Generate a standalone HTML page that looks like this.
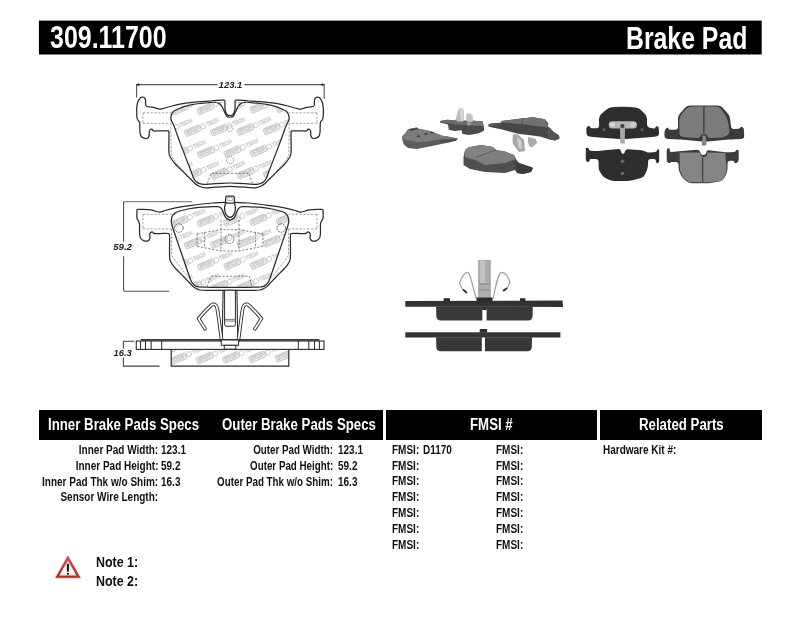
<!DOCTYPE html>
<html><head><meta charset="utf-8">
<style>
*{margin:0;padding:0;box-sizing:border-box}
html,body{width:800px;height:619px;background:#fff;overflow:hidden}
body{position:relative;font-family:"Liberation Sans",sans-serif;font-weight:bold;color:#111}
.abs{position:absolute}
.bar{position:absolute;background:#000}
.t{position:absolute;white-space:nowrap;transform-origin:0 0}
.w{color:#fff}
.r{transform-origin:100% 0}
.t{line-height:1;filter:grayscale(1)}
</style></head><body>
<svg class="abs" style="left:0;top:0" width="800" height="60"><rect x="38.9" y="20.6" width="722.8" height="33.9" fill="#000"/></svg>
<div class="bar" style="left:39px;top:410px;width:344px;height:30px"></div>
<div class="bar" style="left:386px;top:410px;width:211px;height:30px"></div>
<div class="bar" style="left:600px;top:410px;width:162px;height:30px"></div>
<!--SVG-->
<svg class="abs" style="left:0;top:0;filter:grayscale(1)" width="800" height="619" viewBox="0 0 800 619">
<defs><g id="wm" transform="rotate(-23)">
<rect x="0" y="-6" width="16.5" height="6.2" rx="0.8" fill="#ececec" stroke="#bfbfbf" stroke-width="0.8"/>
<text x="1.5" y="-1.3" font-size="5.6" font-weight="bold" fill="#f4f4f4" stroke="#bdbdbd" stroke-width="0.45" font-family="Liberation Sans" textLength="13.5" lengthAdjust="spacingAndGlyphs">STOP</text>
<circle cx="19.6" cy="-2.9" r="2.5" fill="none" stroke="#c0c0c0" stroke-width="0.8"/>
<text x="23.2" y="-1.3" font-size="5.6" font-weight="bold" fill="#f6f6f6" stroke="#c6c6c6" stroke-width="0.45" font-family="Liberation Sans" textLength="13" lengthAdjust="spacingAndGlyphs">TECH</text>
</g>
<clipPath id="cf1"><path d="M230.0,183.0C227.5,183.1 219.3,183.4 215.0,183.6C210.7,183.8 206.6,184.4 204.0,184.4C201.4,184.4 200.8,184.1 199.5,183.6C198.2,183.1 197.0,182.4 196.0,181.5C195.0,180.6 194.5,180.2 193.5,178.0C192.5,175.8 192.0,173.7 189.8,168.0C187.6,162.3 183.0,150.6 180.4,143.6C177.8,136.6 175.6,130.0 174.0,126.0C172.4,122.0 171.4,121.4 171.0,119.5C170.6,117.6 171.0,115.9 171.5,114.5C172.0,113.1 173.0,111.9 174.0,111.0C175.0,110.1 175.8,110.0 177.5,109.3C179.2,108.6 181.6,107.4 184.0,106.6C186.4,105.8 189.3,105.1 192.0,104.6C194.7,104.1 197.2,103.8 200.0,103.5C202.8,103.2 206.5,102.8 209.0,102.6C211.5,102.4 213.3,102.2 215.0,102.3C216.7,102.4 217.8,102.7 219.0,103.4C220.2,104.1 221.1,105.1 222.0,106.5C222.9,107.9 223.7,110.4 224.5,112.0C225.3,113.6 225.9,115.3 226.8,116.2C227.7,117.1 228.9,117.4 230.0,117.4C231.1,117.4 232.3,117.1 233.2,116.2C234.1,115.3 234.7,113.6 235.5,112.0C236.3,110.4 237.1,107.9 238.0,106.5C238.9,105.1 239.8,104.1 241.0,103.4C242.2,102.7 243.3,102.4 245.0,102.3C246.7,102.2 248.5,102.4 251.0,102.6C253.5,102.8 257.2,103.2 260.0,103.5C262.8,103.8 265.3,104.1 268.0,104.6C270.7,105.1 273.6,105.8 276.0,106.6C278.4,107.4 280.8,108.6 282.5,109.3C284.2,110.0 285.0,110.1 286.0,111.0C287.0,111.9 288.0,113.1 288.5,114.5C289.0,115.9 289.4,117.6 289.0,119.5C288.6,121.4 287.6,122.0 286.0,126.0C284.4,130.0 282.2,136.6 279.6,143.6C277.0,150.6 272.4,162.3 270.2,168.0C268.0,173.7 267.5,175.8 266.5,178.0C265.5,180.2 265.0,180.6 264.0,181.5C263.0,182.4 261.8,183.1 260.5,183.6C259.2,184.1 258.6,184.4 256.0,184.4C253.4,184.4 249.3,183.8 245.0,183.6C240.7,183.4 232.5,183.1 230.0,183.0Z"/></clipPath>
<clipPath id="cf2"><path d="M230.0,287.4C226.7,287.4 215.1,287.4 210.0,287.3C204.9,287.2 201.9,287.2 199.5,287.0C197.1,286.8 196.8,286.8 195.6,286.1C194.4,285.4 193.4,284.3 192.5,283.0C191.6,281.7 192.0,283.6 190.0,278.2C188.0,272.8 183.4,259.0 180.5,250.5C177.6,242.0 174.0,231.9 172.5,227.0C171.0,222.1 171.3,222.9 171.3,221.0C171.3,219.1 171.9,216.8 172.5,215.5C173.1,214.2 174.1,213.7 175.0,213.0C175.9,212.3 175.9,212.2 178.1,211.5C180.3,210.8 184.6,209.7 188.0,209.0C191.4,208.3 195.1,207.8 198.8,207.4C202.5,207.0 206.8,206.9 210.0,206.8C213.2,206.7 216.1,206.4 218.0,206.7C219.9,207.0 220.6,207.5 221.5,208.5C222.4,209.5 222.8,211.3 223.5,212.9C224.2,214.5 224.8,216.8 226.0,218.0C227.2,219.2 229.2,220.4 230.5,220.4C231.8,220.4 233.0,219.2 234.0,218.0C235.0,216.8 235.8,214.5 236.5,212.9C237.2,211.3 237.6,209.5 238.5,208.5C239.4,207.5 240.1,207.0 242.0,206.7C243.9,206.4 246.8,206.7 250.0,206.8C253.2,206.9 257.5,207.0 261.2,207.4C264.9,207.8 268.6,208.3 272.0,209.0C275.4,209.7 279.7,210.8 281.9,211.5C284.1,212.2 284.1,212.3 285.0,213.0C285.9,213.7 286.9,214.2 287.5,215.5C288.1,216.8 288.7,219.1 288.7,221.0C288.7,222.9 289.0,222.1 287.5,227.0C286.0,231.9 282.4,242.0 279.5,250.5C276.6,259.0 272.0,272.8 270.0,278.2C268.0,283.6 268.4,281.7 267.5,283.0C266.6,284.3 265.6,285.4 264.4,286.1C263.2,286.8 262.9,286.8 260.5,287.0C258.1,287.2 255.1,287.2 250.0,287.3C244.9,287.4 233.3,287.4 230.0,287.4Z"/></clipPath>
<clipPath id="cf3"><rect x="171.2" y="349.3" width="117.6" height="17"/></clipPath></defs>
<g clip-path="url(#cf1)">
<use href="#wm" x="147.0" y="159.3"/>
<use href="#wm" x="160.3" y="180.8"/>
<use href="#wm" x="146.7" y="115.7"/>
<use href="#wm" x="160.0" y="137.2"/>
<use href="#wm" x="173.3" y="158.7"/>
<use href="#wm" x="186.6" y="180.2"/>
<use href="#wm" x="159.7" y="93.6"/>
<use href="#wm" x="173.0" y="115.1"/>
<use href="#wm" x="186.3" y="136.6"/>
<use href="#wm" x="199.6" y="158.1"/>
<use href="#wm" x="212.9" y="179.6"/>
<use href="#wm" x="186.0" y="93.0"/>
<use href="#wm" x="199.3" y="114.5"/>
<use href="#wm" x="212.6" y="136.0"/>
<use href="#wm" x="225.9" y="157.5"/>
<use href="#wm" x="239.2" y="179.0"/>
<use href="#wm" x="252.5" y="200.5"/>
<use href="#wm" x="212.3" y="92.4"/>
<use href="#wm" x="225.6" y="113.9"/>
<use href="#wm" x="238.9" y="135.4"/>
<use href="#wm" x="252.2" y="156.9"/>
<use href="#wm" x="265.5" y="178.4"/>
<use href="#wm" x="278.8" y="199.9"/>
<use href="#wm" x="238.6" y="91.8"/>
<use href="#wm" x="251.9" y="113.3"/>
<use href="#wm" x="265.2" y="134.8"/>
<use href="#wm" x="278.5" y="156.3"/>
<use href="#wm" x="291.8" y="177.8"/>
<use href="#wm" x="264.9" y="91.2"/>
<use href="#wm" x="278.2" y="112.7"/>
<use href="#wm" x="291.5" y="134.2"/>
<use href="#wm" x="291.2" y="90.6"/>
</g>
<path d="M230.0,186.4C227.5,186.5 219.2,187.0 215.0,187.2C210.8,187.4 207.5,187.9 205.0,187.8C202.5,187.7 201.7,187.2 200.0,186.5C198.3,185.8 197.5,185.7 195.0,183.5C192.5,181.3 188.3,176.8 185.0,173.5C181.7,170.2 177.7,166.7 175.3,164.0C172.9,161.3 171.6,159.3 170.5,157.5C169.4,155.7 169.3,155.9 169.0,153.0C168.7,150.1 168.9,143.4 168.9,140.0C168.9,136.6 169.1,133.8 168.9,132.3C168.7,130.8 169.3,131.1 167.8,130.9C166.3,130.7 162.4,130.9 160.0,130.9C157.6,130.9 154.8,131.2 153.5,130.9C152.2,130.6 152.5,129.4 152.0,129.2C151.5,129.0 150.8,129.2 150.3,129.6C149.9,130.0 149.5,130.5 149.3,131.5C149.1,132.5 149.5,134.4 149.2,135.5C148.9,136.6 148.4,137.8 147.5,138.2C146.6,138.6 145.1,138.6 144.0,138.2C142.9,137.8 141.7,136.9 141.0,136.0C140.3,135.1 140.2,134.2 140.0,132.5C139.8,130.8 139.9,127.7 139.8,126.0C139.7,124.3 139.9,123.3 139.5,122.2C139.1,121.1 138.0,120.5 137.6,119.6C137.2,118.6 137.0,118.3 136.8,116.5C136.7,114.7 136.6,111.2 136.7,109.0C136.8,106.8 137.1,104.6 137.5,103.0C137.9,101.4 138.4,100.5 139.0,99.6C139.6,98.7 140.2,98.0 140.8,97.6C141.4,97.2 142.0,97.0 142.6,97.1C143.2,97.2 144.1,97.4 144.6,98.0C145.1,98.6 145.4,99.4 145.6,100.5C145.8,101.6 145.4,103.5 145.6,104.5C145.8,105.5 145.9,105.9 146.6,106.3C147.3,106.7 148.8,106.8 150.0,107.0C151.2,107.2 152.2,107.1 153.5,107.4C154.8,107.7 156.3,108.3 157.5,108.6C158.7,108.9 159.2,109.2 160.5,109.1C161.8,109.0 163.1,108.5 165.0,108.0C166.9,107.5 169.5,106.6 172.0,106.0C174.5,105.4 177.0,104.8 180.0,104.2C183.0,103.7 186.7,103.1 190.0,102.7C193.3,102.3 196.3,102.0 200.0,101.7C203.7,101.4 208.3,101.0 212.0,100.8C215.7,100.5 219.9,100.3 222.0,100.2C224.1,100.1 224.3,100.2 224.8,100.2" fill="none" stroke="#2b2b2b" stroke-width="1.25" />
<path d="M224.9,100.3C224.9,101.2 224.9,104.3 224.9,106.0C224.9,107.7 224.9,109.1 225.2,110.5C225.5,111.9 226.0,113.4 226.8,114.2C227.6,115.0 228.9,115.6 230.0,115.6C231.1,115.6 232.4,115.0 233.2,114.2C234.0,113.4 234.5,111.9 234.8,110.5C235.1,109.1 235.1,107.7 235.1,106.0C235.1,104.3 235.1,101.2 235.1,100.3" fill="none" stroke="#2b2b2b" stroke-width="1.25" />
<path d="M235.2,100.2C235.7,100.2 235.9,100.1 238.0,100.2C240.1,100.3 244.3,100.5 248.0,100.8C251.7,101.0 256.3,101.4 260.0,101.7C263.7,102.0 266.7,102.3 270.0,102.7C273.3,103.1 277.0,103.7 280.0,104.2C283.0,104.8 285.5,105.4 288.0,106.0C290.5,106.6 293.1,107.5 295.0,108.0C296.9,108.5 298.2,109.0 299.5,109.1C300.8,109.2 301.3,108.9 302.5,108.6C303.7,108.3 305.2,107.7 306.5,107.4C307.8,107.1 308.9,107.2 310.0,107.0C311.1,106.8 312.7,106.7 313.4,106.3C314.1,105.9 314.2,105.5 314.4,104.5C314.6,103.5 314.2,101.6 314.4,100.5C314.6,99.4 314.9,98.6 315.4,98.0C315.9,97.4 316.8,97.2 317.4,97.1C318.0,97.0 318.6,97.2 319.2,97.6C319.8,98.0 320.4,98.7 321.0,99.6C321.6,100.5 322.1,101.4 322.5,103.0C322.9,104.6 323.2,106.8 323.3,109.0C323.4,111.2 323.4,114.7 323.2,116.5C323.0,118.3 322.8,118.6 322.4,119.6C321.9,120.5 320.9,121.1 320.5,122.2C320.1,123.3 320.3,124.3 320.2,126.0C320.1,127.7 320.2,130.8 320.0,132.5C319.8,134.2 319.7,135.1 319.0,136.0C318.3,136.9 317.1,137.8 316.0,138.2C314.9,138.6 313.4,138.6 312.5,138.2C311.6,137.8 311.1,136.6 310.8,135.5C310.5,134.4 310.9,132.5 310.7,131.5C310.5,130.5 310.1,130.0 309.7,129.6C309.2,129.2 308.5,129.0 308.0,129.2C307.5,129.4 307.8,130.6 306.5,130.9C305.2,131.2 302.4,130.9 300.0,130.9C297.6,130.9 293.7,130.7 292.2,130.9C290.7,131.1 291.3,130.8 291.1,132.3C290.9,133.8 291.1,136.6 291.1,140.0C291.1,143.4 291.3,150.1 291.0,153.0C290.7,155.9 290.6,155.7 289.5,157.5C288.4,159.3 287.1,161.3 284.7,164.0C282.3,166.7 278.3,170.2 275.0,173.5C271.7,176.8 267.5,181.3 265.0,183.5C262.5,185.7 261.7,185.8 260.0,186.5C258.3,187.2 257.5,187.7 255.0,187.8C252.5,187.9 249.2,187.4 245.0,187.2C240.8,187.0 232.5,186.5 230.0,186.4" fill="none" stroke="#2b2b2b" stroke-width="1.25" />
<path d="M230.0,183.0C227.5,183.1 219.3,183.4 215.0,183.6C210.7,183.8 206.6,184.4 204.0,184.4C201.4,184.4 200.8,184.1 199.5,183.6C198.2,183.1 197.0,182.4 196.0,181.5C195.0,180.6 194.5,180.2 193.5,178.0C192.5,175.8 192.0,173.7 189.8,168.0C187.6,162.3 183.0,150.6 180.4,143.6C177.8,136.6 175.6,130.0 174.0,126.0C172.4,122.0 171.4,121.4 171.0,119.5C170.6,117.6 171.0,115.9 171.5,114.5C172.0,113.1 173.0,111.9 174.0,111.0C175.0,110.1 175.8,110.0 177.5,109.3C179.2,108.6 181.6,107.4 184.0,106.6C186.4,105.8 189.3,105.1 192.0,104.6C194.7,104.1 197.2,103.8 200.0,103.5C202.8,103.2 206.5,102.8 209.0,102.6C211.5,102.4 213.3,102.2 215.0,102.3C216.7,102.4 217.8,102.7 219.0,103.4C220.2,104.1 221.1,105.1 222.0,106.5C222.9,107.9 223.7,110.4 224.5,112.0C225.3,113.6 225.9,115.3 226.8,116.2C227.7,117.1 229.5,117.2 230.0,117.4" fill="none" stroke="#2b2b2b" stroke-width="1.25" />
<path d="M230.0,117.4C230.5,117.2 232.3,117.1 233.2,116.2C234.1,115.3 234.7,113.6 235.5,112.0C236.3,110.4 237.1,107.9 238.0,106.5C238.9,105.1 239.8,104.1 241.0,103.4C242.2,102.7 243.3,102.4 245.0,102.3C246.7,102.2 248.5,102.4 251.0,102.6C253.5,102.8 257.2,103.2 260.0,103.5C262.8,103.8 265.3,104.1 268.0,104.6C270.7,105.1 273.6,105.8 276.0,106.6C278.4,107.4 280.8,108.6 282.5,109.3C284.2,110.0 285.0,110.1 286.0,111.0C287.0,111.9 288.0,113.1 288.5,114.5C289.0,115.9 289.4,117.6 289.0,119.5C288.6,121.4 287.6,122.0 286.0,126.0C284.4,130.0 282.2,136.6 279.6,143.6C277.0,150.6 272.4,162.3 270.2,168.0C268.0,173.7 267.5,175.8 266.5,178.0C265.5,180.2 265.0,180.6 264.0,181.5C263.0,182.4 261.8,183.1 260.5,183.6C259.2,184.1 258.6,184.4 256.0,184.4C253.4,184.4 249.3,183.8 245.0,183.6C240.7,183.4 232.5,183.1 230.0,183.0" fill="none" stroke="#2b2b2b" stroke-width="1.25" />
<path d="M143.0,112.8 L171.0,112.8" fill="none" stroke="#8c8c8c" stroke-width="0.8" stroke-dasharray="2.3,1.5"/>
<path d="M317.0,112.8 L289.0,112.8" fill="none" stroke="#8c8c8c" stroke-width="0.8" stroke-dasharray="2.3,1.5"/>
<path d="M143.0,123.3 L171.0,123.3" fill="none" stroke="#8c8c8c" stroke-width="0.8" stroke-dasharray="2.3,1.5"/>
<path d="M317.0,123.3 L289.0,123.3" fill="none" stroke="#8c8c8c" stroke-width="0.8" stroke-dasharray="2.3,1.5"/>
<path d="M143.0,112.8 L143.0,123.3" fill="none" stroke="#8c8c8c" stroke-width="0.8" stroke-dasharray="2.3,1.5"/>
<path d="M317.0,112.8 L317.0,123.3" fill="none" stroke="#8c8c8c" stroke-width="0.8" stroke-dasharray="2.3,1.5"/>
<path d="M170.9,123.3 L170.9,140.0 L171.2,155.3 L176.0,163.0 L189.0,177.0" fill="none" stroke="#8c8c8c" stroke-width="0.8" stroke-dasharray="2.3,1.5"/>
<path d="M289.1,123.3 L289.1,140.0 L288.8,155.3 L284.0,163.0 L271.0,177.0" fill="none" stroke="#8c8c8c" stroke-width="0.8" stroke-dasharray="2.3,1.5"/>
<path d="M207.4,183.4 L211.2,173.3 L248.8,173.3 L252.6,183.4" fill="none" stroke="#666" stroke-width="0.8" stroke-dasharray="2.3,1.5"/>
<path d="M212.0,102.4 L224.5,102.4" fill="none" stroke="#8c8c8c" stroke-width="0.8" stroke-dasharray="2.3,1.5"/>
<path d="M248.0,102.4 L235.5,102.4" fill="none" stroke="#8c8c8c" stroke-width="0.8" stroke-dasharray="2.3,1.5"/>
<circle cx="230" cy="160" r="3.6" fill="none" stroke="#777" stroke-width="0.8" stroke-dasharray="1.5,1"/>
<circle cx="230" cy="128.5" r="3" fill="none" stroke="#888" stroke-width="0.8" stroke-dasharray="1.5,1"/>
<path d="M136.6,97.4 V84.6 H217.5 M244.3,84.6 H324.2 V99" fill="none" stroke="#555" stroke-width="1.1"/>
<circle cx="138.3" cy="84.6" r="1.2" fill="#222"/><circle cx="322.5" cy="84.6" r="1.2" fill="#222"/>
<g clip-path="url(#cf2)">
<use href="#wm" x="147.0" y="271.7"/>
<use href="#wm" x="160.3" y="293.2"/>
<use href="#wm" x="146.7" y="228.1"/>
<use href="#wm" x="160.0" y="249.6"/>
<use href="#wm" x="173.3" y="271.1"/>
<use href="#wm" x="186.6" y="292.6"/>
<use href="#wm" x="159.7" y="206.0"/>
<use href="#wm" x="173.0" y="227.5"/>
<use href="#wm" x="186.3" y="249.0"/>
<use href="#wm" x="199.6" y="270.5"/>
<use href="#wm" x="212.9" y="292.0"/>
<use href="#wm" x="186.0" y="205.4"/>
<use href="#wm" x="199.3" y="226.9"/>
<use href="#wm" x="212.6" y="248.4"/>
<use href="#wm" x="225.9" y="269.9"/>
<use href="#wm" x="239.2" y="291.4"/>
<use href="#wm" x="212.3" y="204.8"/>
<use href="#wm" x="225.6" y="226.3"/>
<use href="#wm" x="238.9" y="247.8"/>
<use href="#wm" x="252.2" y="269.3"/>
<use href="#wm" x="265.5" y="290.8"/>
<use href="#wm" x="238.6" y="204.2"/>
<use href="#wm" x="251.9" y="225.7"/>
<use href="#wm" x="265.2" y="247.2"/>
<use href="#wm" x="278.5" y="268.7"/>
<use href="#wm" x="291.8" y="290.2"/>
<use href="#wm" x="264.9" y="203.6"/>
<use href="#wm" x="278.2" y="225.1"/>
<use href="#wm" x="291.5" y="246.6"/>
<use href="#wm" x="291.2" y="203.0"/>
</g>
<path d="M230.0,290.2C226.7,290.2 215.0,290.4 210.0,290.4C205.0,290.4 202.3,290.3 200.1,290.0C197.8,289.7 197.6,289.2 196.5,288.6C195.4,288.0 195.4,288.5 193.3,286.6C191.2,284.7 187.2,280.3 184.0,277.0C180.8,273.7 176.3,269.5 174.1,266.9C171.9,264.3 171.3,263.1 170.6,261.5C169.8,259.9 169.8,260.6 169.6,257.0C169.4,253.4 169.6,243.7 169.6,240.0C169.6,236.3 169.7,235.7 169.4,234.6C169.1,233.5 169.6,233.7 168.0,233.5C166.4,233.3 162.3,233.5 160.0,233.5C157.7,233.5 155.2,233.7 154.0,233.4C152.8,233.2 153.1,232.2 152.6,232.0C152.1,231.8 151.3,232.1 150.8,232.4C150.3,232.7 150.0,233.0 149.8,234.0C149.6,235.0 150.1,237.4 149.8,238.5C149.5,239.6 149.0,240.4 148.0,240.8C147.0,241.2 145.2,241.3 144.0,240.8C142.8,240.3 141.2,239.1 140.5,238.0C139.8,236.9 139.8,236.3 139.6,234.0C139.4,231.7 139.7,226.2 139.5,224.0C139.3,221.8 138.9,221.9 138.5,221.0C138.1,220.1 137.3,219.9 137.0,218.4C136.7,216.9 136.9,213.5 136.9,212.0C136.9,210.5 136.7,210.0 137.2,209.6C137.7,209.2 137.8,209.3 140.0,209.4C142.2,209.5 148.1,209.6 150.6,209.9C153.1,210.2 153.5,210.6 155.0,211.0C156.5,211.4 157.9,212.3 159.6,212.2C161.3,212.1 163.1,211.1 165.0,210.5C166.9,209.9 168.6,209.4 171.3,208.8C174.0,208.1 177.6,207.4 181.0,206.8C184.4,206.2 188.4,205.8 191.9,205.3C195.4,204.8 198.6,204.4 202.0,204.0C205.4,203.6 209.5,203.2 212.5,203.0C215.5,202.8 217.8,202.7 220.0,202.6C222.2,202.5 224.7,202.4 225.6,202.4" fill="none" stroke="#2b2b2b" stroke-width="1.25" />
<path d="M234.4,202.4C235.3,202.4 237.8,202.5 240.0,202.6C242.2,202.7 244.5,202.8 247.5,203.0C250.5,203.2 254.6,203.6 258.0,204.0C261.4,204.4 264.6,204.8 268.1,205.3C271.6,205.8 275.6,206.2 279.0,206.8C282.4,207.4 286.0,208.1 288.7,208.8C291.4,209.4 293.1,209.9 295.0,210.5C296.9,211.1 298.7,212.1 300.4,212.2C302.1,212.3 303.5,211.4 305.0,211.0C306.5,210.6 306.9,210.2 309.4,209.9C311.9,209.6 317.8,209.5 320.0,209.4C322.2,209.3 322.3,209.2 322.8,209.6C323.3,210.0 323.1,210.5 323.1,212.0C323.1,213.5 323.3,216.9 323.0,218.4C322.7,219.9 321.9,220.1 321.5,221.0C321.1,221.9 320.7,221.8 320.5,224.0C320.3,226.2 320.6,231.7 320.4,234.0C320.2,236.3 320.2,236.9 319.5,238.0C318.8,239.1 317.2,240.3 316.0,240.8C314.8,241.3 313.0,241.2 312.0,240.8C311.0,240.4 310.5,239.6 310.2,238.5C309.9,237.4 310.4,235.0 310.2,234.0C310.0,233.0 309.7,232.7 309.2,232.4C308.7,232.1 307.9,231.8 307.4,232.0C306.9,232.2 307.2,233.2 306.0,233.4C304.8,233.7 302.3,233.5 300.0,233.5C297.7,233.5 293.6,233.3 292.0,233.5C290.4,233.7 290.9,233.5 290.6,234.6C290.3,235.7 290.4,236.3 290.4,240.0C290.4,243.7 290.6,253.4 290.4,257.0C290.2,260.6 290.1,259.9 289.4,261.5C288.6,263.1 288.1,264.3 285.9,266.9C283.7,269.5 279.2,273.7 276.0,277.0C272.8,280.3 268.8,284.7 266.7,286.6C264.6,288.5 264.6,288.0 263.5,288.6C262.4,289.2 262.1,289.7 259.9,290.0C257.6,290.3 255.0,290.4 250.0,290.4C245.0,290.4 233.3,290.2 230.0,290.2" fill="none" stroke="#2b2b2b" stroke-width="1.25" />
<path d="M230.0,287.4C226.7,287.4 215.1,287.4 210.0,287.3C204.9,287.2 201.9,287.2 199.5,287.0C197.1,286.8 196.8,286.8 195.6,286.1C194.4,285.4 193.4,284.3 192.5,283.0C191.6,281.7 192.0,283.6 190.0,278.2C188.0,272.8 183.4,259.0 180.5,250.5C177.6,242.0 174.0,231.9 172.5,227.0C171.0,222.1 171.3,222.9 171.3,221.0C171.3,219.1 171.9,216.8 172.5,215.5C173.1,214.2 174.1,213.7 175.0,213.0C175.9,212.3 175.9,212.2 178.1,211.5C180.3,210.8 184.6,209.7 188.0,209.0C191.4,208.3 195.1,207.8 198.8,207.4C202.5,207.0 206.8,206.9 210.0,206.8C213.2,206.7 216.1,206.4 218.0,206.7C219.9,207.0 220.6,207.5 221.5,208.5C222.4,209.5 222.8,211.3 223.5,212.9C224.2,214.5 224.8,216.8 226.0,218.0C227.2,219.2 229.8,220.0 230.5,220.4" fill="none" stroke="#2b2b2b" stroke-width="1.25" />
<path d="M229.5,220.4C230.2,220.0 232.8,219.2 234.0,218.0C235.2,216.8 235.8,214.5 236.5,212.9C237.2,211.3 237.6,209.5 238.5,208.5C239.4,207.5 240.1,207.0 242.0,206.7C243.9,206.4 246.8,206.7 250.0,206.8C253.2,206.9 257.5,207.0 261.2,207.4C264.9,207.8 268.6,208.3 272.0,209.0C275.4,209.7 279.7,210.8 281.9,211.5C284.1,212.2 284.1,212.3 285.0,213.0C285.9,213.7 286.9,214.2 287.5,215.5C288.1,216.8 288.7,219.1 288.7,221.0C288.7,222.9 289.0,222.1 287.5,227.0C286.0,231.9 282.4,242.0 279.5,250.5C276.6,259.0 272.0,272.8 270.0,278.2C268.0,283.6 268.4,281.7 267.5,283.0C266.6,284.3 265.6,285.4 264.4,286.1C263.2,286.8 262.9,286.8 260.5,287.0C258.1,287.2 255.1,287.2 250.0,287.3C244.9,287.4 233.3,287.4 230.0,287.4" fill="none" stroke="#2b2b2b" stroke-width="1.25" />
<rect x="225.6" y="196.2" width="8.8" height="7" rx="1.6" fill="#fff" stroke="#2b2b2b" stroke-width="1.25"/>
<rect x="227.3" y="197.6" width="5.4" height="2.8" rx="0.6" fill="none" stroke="#777" stroke-width="0.6"/>
<path d="M225.6,202.8C225.4,203.6 224.7,205.9 224.6,207.5C224.5,209.1 224.7,211.0 225.2,212.5C225.7,214.0 226.7,215.5 227.5,216.3C228.3,217.1 229.2,217.3 230.0,217.3C230.8,217.3 231.7,217.1 232.5,216.3C233.3,215.5 234.3,214.0 234.8,212.5C235.3,211.0 235.5,209.1 235.4,207.5C235.3,205.9 234.6,203.6 234.4,202.8" fill="none" stroke="#2b2b2b" stroke-width="1.25" />
<path d="M143.0,214.3 L171.5,214.3" fill="none" stroke="#8c8c8c" stroke-width="0.8" stroke-dasharray="2.3,1.5"/>
<path d="M317.0,214.3 L288.5,214.3" fill="none" stroke="#8c8c8c" stroke-width="0.8" stroke-dasharray="2.3,1.5"/>
<path d="M143.0,228.9 L171.5,228.9" fill="none" stroke="#8c8c8c" stroke-width="0.8" stroke-dasharray="2.3,1.5"/>
<path d="M317.0,228.9 L288.5,228.9" fill="none" stroke="#8c8c8c" stroke-width="0.8" stroke-dasharray="2.3,1.5"/>
<path d="M143.0,214.3 L143.0,228.9" fill="none" stroke="#8c8c8c" stroke-width="0.8" stroke-dasharray="2.3,1.5"/>
<path d="M317.0,214.3 L317.0,228.9" fill="none" stroke="#8c8c8c" stroke-width="0.8" stroke-dasharray="2.3,1.5"/>
<path d="M171.5,228.9 L171.5,255.5 L188.8,278.2" fill="none" stroke="#8c8c8c" stroke-width="0.8" stroke-dasharray="2.3,1.5"/>
<path d="M288.5,228.9 L288.5,255.5 L271.2,278.2" fill="none" stroke="#8c8c8c" stroke-width="0.8" stroke-dasharray="2.3,1.5"/>
<path d="M206.9,286.9 L211.2,276.2 L249.4,276.2 L251.9,286.6" fill="none" stroke="#666" stroke-width="0.8" stroke-dasharray="2.3,1.5"/>
<path d="M221.0,220.0 L221.0,251.0" fill="none" stroke="#666" stroke-width="0.8" stroke-dasharray="2.3,1.5"/>
<path d="M239.0,220.0 L239.0,251.0" fill="none" stroke="#666" stroke-width="0.8" stroke-dasharray="2.3,1.5"/>
<path d="M197.1,233.9 L221.0,229.6 L239.0,229.6 L262.9,233.9" fill="none" stroke="#666" stroke-width="0.8" stroke-dasharray="2.3,1.5"/>
<path d="M197.1,246.3 L221.0,251.0 L239.0,251.0 L262.9,246.3" fill="none" stroke="#666" stroke-width="0.8" stroke-dasharray="2.3,1.5"/>
<path d="M197.1,233.9 L197.1,246.3" fill="none" stroke="#666" stroke-width="0.8" stroke-dasharray="2.3,1.5"/>
<path d="M262.9,233.9 L262.9,246.3" fill="none" stroke="#666" stroke-width="0.8" stroke-dasharray="2.3,1.5"/>
<path d="M204.4,232.6 L204.4,247.6" fill="none" stroke="#666" stroke-width="0.8" stroke-dasharray="2.3,1.5"/>
<path d="M255.6,232.6 L255.6,247.6" fill="none" stroke="#666" stroke-width="0.8" stroke-dasharray="2.3,1.5"/>
<circle cx="178.8" cy="228" r="4.3" fill="none" stroke="#555" stroke-width="0.9" stroke-dasharray="1.8,0.9"/>
<circle cx="281.2" cy="228" r="4.3" fill="none" stroke="#555" stroke-width="0.9" stroke-dasharray="1.8,0.9"/>
<circle cx="229.5" cy="239.1" r="4.5" fill="none" stroke="#555" stroke-width="0.9" stroke-dasharray="1.8,0.9"/>
<path d="M123.8,201.6 H192" fill="none" stroke="#8a8a8a" stroke-width="1.4"/>
<path d="M123.8,291.3 H169 M123.6,201.6 V241.8 M123.6,256.3 V291.3" fill="none" stroke="#555" stroke-width="1.1"/>
<path d="M223.1,290.6 L222.2,340.3 M236.9,290.6 L237.8,340.3" fill="none" stroke="#2b2b2b" stroke-width="1.1"/>
<path d="M224.6,290.6 V324.6 Q224.6,326.2 226.2,326.2 H233.8 Q235.4,326.2 235.4,324.6 V290.6" fill="none" stroke="#2b2b2b" stroke-width="1"/>
<path d="M224.6,319.4 H235.4 M224.6,321 H235.4" fill="none" stroke="#555" stroke-width="0.8"/>
<path d="M221.6,340.0C221.2,337.3 220.2,329.2 219.5,324.0C218.8,318.8 217.9,312.1 217.3,309.0C216.7,305.9 216.4,306.1 215.8,305.3C215.2,304.5 214.3,304.2 213.5,304.3C212.7,304.4 213.1,303.5 210.8,305.6C208.5,307.8 201.7,314.9 199.8,317.2C197.9,319.5 198.4,317.7 199.3,319.6C200.2,321.5 204.1,327.3 205.0,328.8" fill="none" stroke="#2b2b2b" stroke-width="3.6" stroke-linecap="round"/>
<path d="M221.6,340.0C221.2,337.3 220.2,329.2 219.5,324.0C218.8,318.8 217.9,312.1 217.3,309.0C216.7,305.9 216.4,306.1 215.8,305.3C215.2,304.5 214.3,304.2 213.5,304.3C212.7,304.4 213.1,303.5 210.8,305.6C208.5,307.8 201.7,314.9 199.8,317.2C197.9,319.5 198.4,317.7 199.3,319.6C200.2,321.5 204.1,327.3 205.0,328.8" fill="none" stroke="#fff" stroke-width="1.8" stroke-linecap="round"/>
<path d="M238.4,340.0C238.8,337.3 239.8,329.2 240.5,324.0C241.2,318.8 242.1,312.1 242.7,309.0C243.3,305.9 243.6,306.1 244.2,305.3C244.8,304.5 245.7,304.2 246.5,304.3C247.3,304.4 246.9,303.5 249.2,305.6C251.5,307.8 258.3,314.9 260.2,317.2C262.1,319.5 261.6,317.7 260.7,319.6C259.8,321.5 255.9,327.3 255.0,328.8" fill="none" stroke="#2b2b2b" stroke-width="3.6" stroke-linecap="round"/>
<path d="M238.4,340.0C238.8,337.3 239.8,329.2 240.5,324.0C241.2,318.8 242.1,312.1 242.7,309.0C243.3,305.9 243.6,306.1 244.2,305.3C244.8,304.5 245.7,304.2 246.5,304.3C247.3,304.4 246.9,303.5 249.2,305.6C251.5,307.8 258.3,314.9 260.2,317.2C262.1,319.5 261.6,317.7 260.7,319.6C259.8,321.5 255.9,327.3 255.0,328.8" fill="none" stroke="#fff" stroke-width="1.8" stroke-linecap="round"/>
<g clip-path="url(#cf3)">
<use href="#wm" x="145.7" y="365.1"/>
<use href="#wm" x="158.7" y="343.0"/>
<use href="#wm" x="172.0" y="364.5"/>
<use href="#wm" x="185.0" y="342.4"/>
<use href="#wm" x="198.3" y="363.9"/>
<use href="#wm" x="211.3" y="341.8"/>
<use href="#wm" x="224.6" y="363.3"/>
<use href="#wm" x="237.9" y="384.8"/>
<use href="#wm" x="237.6" y="341.2"/>
<use href="#wm" x="250.9" y="362.7"/>
<use href="#wm" x="264.2" y="384.2"/>
<use href="#wm" x="263.9" y="340.6"/>
<use href="#wm" x="277.2" y="362.1"/>
<use href="#wm" x="290.5" y="383.6"/>
<use href="#wm" x="290.2" y="340.0"/>
</g>
<rect x="136.3" y="341" width="187.7" height="8.4" fill="none" stroke="#2b2b2b" stroke-width="1.1"/>
<path d="M140.8,339.9 H319.3" stroke="#3a3a3a" stroke-width="1.6"/>
<path d="M140.6,341 V349.4 M145.5,341 V349.4 M151.2,341 V349.4 M161.7,341 V349.4 M319.4,341 V349.4 M314.5,341 V349.4 M308.8,341 V349.4 M298.3,341 V349.4 " stroke="#2b2b2b" stroke-width="1"/>
<path d="M171.2,349.4 V366.2 H288.8 V349.4" fill="none" stroke="#2b2b2b" stroke-width="1.2"/>
<rect x="221.3" y="340" width="17.2" height="5.3" fill="#fff" stroke="#2b2b2b" stroke-width="1"/>
<rect x="224.3" y="345.3" width="11.5" height="3.8" fill="#fff" stroke="#2b2b2b" stroke-width="1"/>
<path d="M123.1,341.2 H134.4 M123.4,341.2 V348.6 M123.4,357.4 V366.1 H159.5" fill="none" stroke="#444" stroke-width="1.1"/>
<g font-family="Liberation Sans" font-weight="bold" font-style="italic" fill="#222">
<text x="218.6" y="87.9" font-size="8.2" textLength="23.8" lengthAdjust="spacingAndGlyphs">123.1</text>
<text x="113.2" y="250.2" font-size="8.6" textLength="18.8" lengthAdjust="spacingAndGlyphs">59.2</text>
<text x="113.5" y="355.5" font-size="8.6" textLength="18.2" lengthAdjust="spacingAndGlyphs">16.3</text>
</g>
</svg>
<!--/SVG-->
<!--PHOTO-->
<svg class="abs" style="left:0;top:0" width="800" height="619" viewBox="0 0 800 619">
<defs><filter id="bl" x="-5%" y="-5%" width="110%" height="110%"><feGaussianBlur stdDeviation="0.45"/></filter></defs><g filter="url(#bl)"><polygon points="402.0,136.6 405.5,133.1 408.1,129.2 416.9,127.4 418.6,128.8 430.0,130.9 442.2,135.8 447.5,136.6 457.6,138.4 456.2,140.6 447.5,142.8 434.4,145.4 416.9,148.9 408.1,148.0 403.8,144.5 402.4,140.1" fill="#5c5c5c" />
<polygon points="402.5,136.6 405.5,133.1 408.1,129.2 416.9,127.4 418.6,128.8 430.0,130.9 442.2,135.8 447.5,136.6 457.6,138.4 450.0,139.8 438.0,139.6 428.0,141.5 418.0,142.3 404.0,139.5" fill="#7b7b7b" />
<polygon points="409.0,129.5 416.0,127.8 418.0,129.0 411.0,131.2" fill="#4a4a4a" />
<ellipse cx="418.5" cy="136.2" rx="1.7" ry="0.9" fill="#3e3e3e"/>
<ellipse cx="426" cy="134" rx="1.7" ry="0.9" fill="#3e3e3e"/>
<ellipse cx="432" cy="132.6" rx="1.7" ry="0.9" fill="#3e3e3e"/>
<polygon points="440.0,139.5 457.6,138.4 456.2,140.6 447.5,142.8 440.0,142.0" fill="#505050" />
<polygon points="440.0,121.0 447.5,119.7 455.0,120.5 470.2,120.6 482.5,121.4 483.8,126.2 484.2,130.6 479.0,133.2 469.4,135.0 462.4,134.1 461.5,130.2 454.5,131.1 448.8,129.8 448.0,124.5 440.5,122.8" fill="#4e4e4e" />
<polygon points="440.0,121.0 447.5,119.7 455.0,120.3 462.0,121.5 470.0,120.4 482.5,121.4 483.0,125.5 472.0,124.5 462.0,125.0 450.0,123.8 440.5,122.5" fill="#6a6a6a" />
<polygon points="471.0,120.6 482.5,121.4 483.5,126.0 472.0,125.6" fill="#747474" />
<polygon points="455.4,119.5 457.5,112.0 459.3,108.3 461.8,108.4 463.7,109.6 464.0,115.0 463.7,121.5 458.0,121.8" fill="#bdbdbd" />
<polygon points="459.3,108.6 461.8,108.4 463.5,109.8 463.6,120.5 461.2,121.0" fill="#d4d4d4" />
<polygon points="466.3,114.0 469.4,113.1 472.9,115.8 472.6,121.9 468.0,122.5 466.0,119.0" fill="#c2c2c2" />
<polygon points="466.0,123.0 470.0,122.5 472.0,124.8 468.0,126.0" fill="#9a9a9a" />
<polygon points="488.0,124.8 491.0,123.5 501.0,122.8 501.5,121.0 515.0,119.2 533.0,117.3 545.0,119.3 548.3,123.5 548.0,127.0 550.0,128.0 553.0,131.5 559.0,135.5 559.5,138.5 555.0,140.5 549.0,139.2 540.0,136.4 518.0,133.8 502.0,129.5 489.0,126.8" fill="#474747" />
<polygon points="501.5,121.0 515.0,119.2 533.0,117.3 545.0,119.3 548.3,123.5 547.5,127.4 535.0,126.0 523.0,124.3 501.5,122.4" fill="#6f6f6f" />
<polygon points="488.0,124.8 491.0,123.5 501.0,122.8 501.5,124.5 490.0,126.6" fill="#5a5a5a" />
<polygon points="548.0,127.0 550.0,128.0 553.0,131.5 559.0,135.5 559.5,138.5 555.0,140.5 549.0,139.2 547.0,133.0" fill="#555555" />
<path d="M523,117.9 L521.5,124.2" stroke="#555" stroke-width="0.8"/>
<polygon points="513.0,134.0 518.0,134.5 524.0,140.0 525.0,151.0 519.0,152.0 513.0,144.0 512.5,139.0" fill="#a8a8a8" />
<polygon points="517.0,137.0 521.0,140.0 522.0,149.0 518.5,148.0" fill="#d0d0d0" />
<polygon points="528.0,137.0 536.0,139.0 537.0,143.0 532.0,147.5 529.0,146.0 528.0,141.0" fill="#acacac" />
<polygon points="463.5,157.0 465.0,150.0 468.0,147.5 473.0,146.5 481.0,145.0 493.0,147.0 496.0,150.0 505.0,151.5 514.0,155.0 516.0,159.0 519.0,163.0 531.0,167.0 533.0,168.0 531.0,172.0 523.0,174.0 517.0,173.0 515.0,170.0 505.0,173.0 485.0,172.0 470.0,169.0 463.5,165.0" fill="#4f4f4f" />
<polygon points="465.0,150.0 468.0,147.5 473.0,146.5 481.0,145.0 493.0,147.0 496.0,150.0 505.0,151.5 514.0,155.0 516.0,159.0 505.0,163.0 485.0,165.0 475.0,160.0 465.0,157.0" fill="#7e7e7e" />
<polygon points="466.0,150.0 468.0,147.6 473.0,146.6 481.0,145.2 493.0,147.2 495.5,150.0 485.0,153.0 476.0,156.8 466.0,154.0" fill="#838383" />
<path d="M476,157 L496,150" stroke="#5a5a5a" stroke-width="0.8"/>
<polygon points="515.0,162.0 519.0,163.0 531.0,167.0 533.0,168.0 531.0,172.0 523.0,174.0 517.0,173.0" fill="#3e3e3e" />
<path d="M606.5,109.4 Q608.7,107.4 611.7,107.2 L619.5,106.8 Q622.5,106.6 625.5,106.8 L633.1,107.3 Q635.3,107.4 637.4,107.9 L637.4,108.0 Q639.5,108.5 641.0,110.0 L644.9,113.9 Q647.0,116.0 647.0,119.0 L647.0,124.1 Q647.0,127.1 649.9,127.7 L653.5,128.5 Q654.4,128.7 654.9,127.9 L655.1,127.7 Q655.5,127.1 656.0,126.7 L656.0,126.6 Q656.5,126.2 657.2,126.3 L657.6,126.4 Q658.6,126.6 658.7,127.7 L659.0,133.1 Q659.2,136.1 656.2,136.4 L652.0,136.9 Q649.0,137.2 646.0,137.4 L625.5,139.1 Q622.5,139.3 619.5,139.1 L599.0,137.4 Q596.0,137.2 593.0,136.9 L589.4,136.4 Q586.4,136.1 586.4,133.1 L586.4,128.6 Q586.4,127.6 587.1,126.9 L587.2,126.8 Q587.8,126.2 588.7,126.1 L588.7,126.1 Q589.6,126.0 590.0,126.8 L590.1,127.1 Q590.6,128.2 591.8,128.2 L596.1,128.2 Q599.1,128.2 599.1,125.2 L599.0,119.0 Q599.0,116.0 601.2,114.0 Z" fill="#2f2f2f" />
<rect x="608.7" y="121.2" width="28.2" height="7.2" rx="3.5" fill="#b5b5b5"/>
<ellipse cx="612.5" cy="124.6" rx="2.6" ry="2.4" fill="#d6d6d6"/><ellipse cx="633" cy="124.8" rx="2.6" ry="2.4" fill="#cfcfcf"/>
<polygon points="620.0,126.0 625.0,126.0 624.8,143.6 620.3,143.6" fill="#a9a9a9" />
<circle cx="622.4" cy="126" r="2.1" fill="#3a3a3a"/>
<circle cx="603.9" cy="129.8" r="1.7" fill="#585858"/>
<circle cx="642.2" cy="129.8" r="1.7" fill="#585858"/>
<path d="M685.0,107.8 Q687.0,105.6 690.0,105.6 L717.7,105.6 Q720.7,105.6 722.7,107.8 L727.7,113.5 Q729.7,115.7 730.1,118.7 L731.0,126.2 Q731.4,129.2 734.4,129.0 L738.6,128.8 Q739.9,128.7 740.4,127.6 L740.5,127.5 Q741.0,126.4 742.1,127.1 L742.4,127.3 Q743.8,128.1 743.9,129.7 L744.2,135.8 Q744.4,138.8 741.4,138.9 L735.0,139.3 Q732.0,139.4 729.0,139.6 L708.0,141.4 Q705.0,141.6 702.0,141.4 L681.0,139.6 Q678.0,139.4 675.0,139.3 L667.5,138.9 Q664.5,138.8 664.5,135.8 L664.5,132.0 Q664.5,129.8 666.2,128.4 L666.7,128.0 Q667.9,127.0 668.4,128.4 L668.5,128.4 Q669.0,129.8 670.5,129.8 L675.0,129.8 Q678.0,129.8 678.0,126.8 L678.0,118.7 Q678.0,115.7 680.0,113.5 Z" fill="#3b3b3b" />
<path d="M685.5,109.5 Q688.1,106.4 692.1,106.4 L715.6,106.4 Q719.6,106.4 721.7,109.8 L725.4,115.6 Q727.5,119.0 728.2,122.9 L729.3,129.8 Q730.0,133.7 726.5,135.7 L726.5,135.7 Q723.0,137.7 719.0,137.8 L710.7,138.1 Q708.6,138.2 707.6,136.4 L707.2,135.7 Q706.5,134.5 705.2,134.0 L705.2,134.0 Q703.9,133.5 702.6,134.0 L702.6,134.0 Q701.3,134.5 700.6,135.7 L700.2,136.4 Q699.2,138.2 697.1,138.1 L687.8,137.6 Q685.0,137.5 682.3,136.8 L682.2,136.7 Q679.5,136.0 679.5,133.2 L679.3,120.9 Q679.3,116.9 681.9,113.8 Z" fill="#7c7c7c" />
<path d="M703.9,106.5 V133" stroke="#2c2c2c" stroke-width="1.1"/>
<polygon points="702.2,135.5 705.6,135.5 706.7,145.0 703.3,145.0" fill="#8a8a8a" />
<path d="M586.1,148.0 Q586.4,148.0 586.7,147.9 L587.5,147.7 Q588.5,147.4 588.7,148.5 L588.8,149.0 Q589.0,150.6 590.6,150.7 L595.0,151.0 Q598.0,151.2 601.0,150.8 L607.0,149.9 Q610.0,149.5 613.0,149.4 L618.6,149.1 Q620.4,149.0 620.8,150.7 L621.0,151.6 Q621.2,152.5 621.8,153.2 L621.9,153.3 Q622.5,153.9 623.3,153.7 L623.4,153.7 Q624.2,153.5 624.5,152.7 L625.0,151.2 Q625.7,149.0 628.1,149.2 L632.0,149.4 Q635.0,149.6 638.0,149.9 L641.5,150.3 Q643.8,150.6 645.9,151.7 L645.9,151.7 Q648.0,152.8 650.3,152.5 L655.1,151.9 Q656.5,151.7 657.0,150.4 L657.3,149.8 Q657.6,149.0 658.4,149.3 L658.4,149.3 Q659.2,149.6 659.2,150.5 L659.2,160.7 Q659.2,162.3 657.9,163.1 L657.8,163.1 Q656.5,163.9 656.3,162.3 L656.2,161.5 Q656.0,159.1 653.6,159.1 L651.0,159.1 Q648.0,159.1 648.0,162.1 L648.0,164.6 Q648.0,167.6 646.8,170.3 L645.0,174.5 Q643.8,177.2 640.9,178.0 L633.9,180.1 Q631.0,180.9 628.0,180.9 L614.9,180.9 Q611.9,180.9 609.1,179.7 L606.2,178.4 Q603.4,177.2 601.8,174.7 L600.2,172.3 Q598.6,169.8 598.6,166.8 L598.6,162.1 Q598.6,159.1 595.6,159.1 L590.7,159.1 Q589.6,159.1 589.6,160.2 L589.6,160.2 Q589.6,161.3 588.6,161.8 L588.5,161.8 Q587.4,162.3 586.7,161.3 L586.6,161.2 Q585.8,160.2 585.8,158.9 L585.8,148.3 Q585.8,148.0 586.1,148.0 Z" fill="#2d2d2d" />
<ellipse cx="622.5" cy="161.3" rx="1.9" ry="1.7" fill="#6a6a6a"/>
<ellipse cx="622.5" cy="173.5" rx="1.9" ry="1.7" fill="#6a6a6a"/>
<path d="M667.0,149.2 Q667.3,148.4 668.1,148.3 L668.5,148.2 Q669.6,148.0 669.7,149.2 L669.8,150.2 Q670.0,152.4 672.2,152.1 L676.1,151.6 Q679.1,151.2 682.1,151.0 L696.8,149.8 Q699.4,149.6 700.2,152.1 L700.6,153.2 Q701.0,154.6 702.4,154.9 L702.7,154.9 Q703.9,155.2 705.0,154.6 L705.0,154.6 Q706.1,154.0 706.3,152.8 L706.4,152.0 Q706.7,150.1 708.6,150.3 L723.4,152.1 Q726.4,152.4 729.4,152.2 L734.2,151.9 Q735.4,151.8 735.9,150.7 L736.0,150.6 Q736.5,149.6 737.6,149.8 L737.6,149.8 Q738.7,150.0 738.7,151.1 L738.7,159.8 Q738.7,161.9 736.8,162.7 L736.1,163.0 Q734.8,163.6 734.4,162.2 L734.4,162.2 Q734.0,160.8 732.6,160.8 L730.5,160.8 Q727.5,160.8 727.5,163.8 L727.5,168.5 Q727.5,171.5 726.2,174.2 L724.3,177.8 Q723.0,180.5 720.1,181.2 L713.5,182.6 Q710.6,183.3 707.6,183.3 L692.2,183.3 Q689.2,183.3 686.8,181.5 L684.9,180.0 Q682.5,178.2 681.2,175.5 L679.9,173.1 Q678.6,170.4 678.6,167.4 L678.6,164.9 Q678.6,161.9 675.6,161.9 L671.2,161.9 Q670.7,161.9 670.7,162.4 L670.7,162.5 Q670.7,163.0 670.2,163.0 L669.5,163.0 Q668.4,163.0 667.6,162.2 L667.5,162.2 Q666.7,161.4 666.7,160.2 L666.7,150.9 Q666.7,150.0 667.0,149.2 Z" fill="#3d3d3d" />
<polygon points="679.6,152.6 699.6,152.6 701.2,156.0 703.9,157.2 706.6,156.0 707.4,152.6 725.2,153.1 726.6,171.5 722.4,180.6 710.6,182.2 689.2,182.2 683.4,178.0 680.0,170.4" fill="#858585" />
<path d="M702.7,157.5 V182" stroke="#333" stroke-width="1"/>
<polygon points="701.8,140.0 705.4,140.0 705.4,145.6 701.8,145.6" fill="#888" />
<polygon points="478.9,259.8 490.2,259.8 490.2,297.8 478.9,297.8" fill="#adadad" />
<polygon points="480.0,260.5 485.0,260.5 485.0,283.0 480.0,283.0" fill="#c2c2c2" />
<path d="M479,284 H490 M479,290 H490" stroke="#8a8a8a" stroke-width="1"/>
<path d="M478.7,260 V297.8 M490.2,260 V297.8" stroke="#8e8e8e" stroke-width="0.8"/>
<path d="M476.5,299 C472,285 470,272 467.5,272.4 C464,272.6 461,279 459.6,283.1 C460.5,287 463,290 465.8,292.1" fill="none" stroke="#a0a0a0" stroke-width="1.2"/>
<path d="M463.5,290 L466.5,292.5" stroke="#333" stroke-width="1.8" stroke-linecap="round"/>
<path d="M493.1,298.8 C496,285 498,273 501.5,272.3 C505,272 508.5,277 510,281.9 C509,286 507,289 504.4,291.3" fill="none" stroke="#a0a0a0" stroke-width="1.2"/>
<path d="M503.5,290.5 L506.5,288.5" stroke="#333" stroke-width="1.8" stroke-linecap="round"/>
<polygon points="443.6,298.2 450.0,298.2 450.0,301.5 443.6,301.5" fill="#2e2e2e" />
<polygon points="520.0,298.2 525.4,298.2 525.4,301.5 520.0,301.5" fill="#2e2e2e" />
<polygon points="476.5,297.5 492.5,297.5 492.5,301.5 476.5,301.5" fill="#2a2a2a" />
<polygon points="405.3,301.0 562.6,300.6 563.0,306.9 405.3,306.7" fill="#333333" />
<path d="M436.1,306.5 H482.3 V320.6 H441 Q436.6,320.6 436.3,316 Z" fill="#393939"/>
<path d="M486.6,306.5 H532.8 L532.6,316 Q532.3,320.6 528,320.6 H486.6 Z" fill="#393939"/>
<polygon points="481.8,306.5 487.1,306.5 486.5,309.9 482.4,309.9" fill="#2f2f2f" />
<polygon points="479.7,329.0 487.1,329.0 487.1,332.5 479.7,332.5" fill="#2e2e2e" />
<polygon points="405.3,332.2 560.4,332.2 560.4,337.5 405.3,337.5" fill="#353535" />
<path d="M436.1,337.3 H481.8 V351.3 H441 Q436.6,351.3 436.3,347 Z" fill="#383838"/>
<path d="M485,337.3 H532 L531.8,347 Q531.5,351.3 527.5,351.3 H485 Z" fill="#383838"/></g>
</svg>
<!--/PHOTO-->
<!--ICON-->
<svg class="abs" style="left:0;top:0" width="800" height="619" viewBox="0 0 800 619">
<defs><linearGradient id="tg" x1="0" y1="0" x2="0" y2="1"><stop offset="0" stop-color="#d9534f"/><stop offset="1" stop-color="#b02a25"/></linearGradient>
<linearGradient id="tg2" x1="0" y1="0" x2="0" y2="1"><stop offset="0" stop-color="#f6c9c4"/><stop offset="0.6" stop-color="#fff"/><stop offset="1" stop-color="#fde9e7"/></linearGradient></defs>
<path d="M67.9,556 L80.3,577.8 L55.6,577.8 Z" fill="url(#tg)" stroke="#a33" stroke-width="0.6" stroke-linejoin="round"/>
<path d="M67.9,560.6 L76.4,575.6 L59.4,575.6 Z" fill="url(#tg2)"/>
<path d="M67.9,563.8 V571.6" stroke="#111" stroke-width="2"/>
<rect x="66.9" y="572.9" width="2" height="1.8" fill="#111"/>
</svg>
<!--/ICON-->
<!--TEXT-->
<div class="t w" style="left:50.3px;top:20.9px;font-size:32px;transform:scaleX(0.78)">309.11700</div>
<div class="t w" style="left:626.0px;top:23.0px;font-size:31.7px;transform:scaleX(0.783)">Brake Pad</div>
<div class="t w" style="left:48.3px;top:416.3px;font-size:17.4px;transform:scaleX(0.762)">Inner Brake Pads Specs</div>
<div class="t w" style="left:221.6px;top:416.3px;font-size:17.4px;transform:scaleX(0.762)">Outer Brake Pads Specs</div>
<div class="t w" style="left:470.3px;top:416.3px;font-size:17.4px;transform:scaleX(0.762)">FMSI #</div>
<div class="t w" style="left:639.0px;top:416.3px;font-size:17.4px;transform:scaleX(0.762)">Related Parts</div>
<div class="t r " style="right:641.8px;top:443.6px;font-size:12.5px;transform:scaleX(0.8)">Inner Pad Width:</div>
<div class="t r " style="right:641.8px;top:459.6px;font-size:12.5px;transform:scaleX(0.8)">Inner Pad Height:</div>
<div class="t r " style="right:641.8px;top:475.6px;font-size:12.5px;transform:scaleX(0.8)">Inner Pad Thk w/o Shim:</div>
<div class="t r " style="right:641.8px;top:491.4px;font-size:12.5px;transform:scaleX(0.8)">Sensor Wire Length:</div>
<div class="t " style="left:161.0px;top:443.6px;font-size:12.5px;transform:scaleX(0.8)">123.1</div>
<div class="t " style="left:161.0px;top:459.6px;font-size:12.5px;transform:scaleX(0.8)">59.2</div>
<div class="t " style="left:161.0px;top:475.6px;font-size:12.5px;transform:scaleX(0.8)">16.3</div>
<div class="t r " style="right:466.7px;top:443.6px;font-size:12.5px;transform:scaleX(0.783)">Outer Pad Width:</div>
<div class="t r " style="right:466.7px;top:459.6px;font-size:12.5px;transform:scaleX(0.783)">Outer Pad Height:</div>
<div class="t r " style="right:466.7px;top:475.6px;font-size:12.5px;transform:scaleX(0.783)">Outer Pad Thk w/o Shim:</div>
<div class="t " style="left:338.0px;top:443.6px;font-size:12.5px;transform:scaleX(0.8)">123.1</div>
<div class="t " style="left:338.0px;top:459.6px;font-size:12.5px;transform:scaleX(0.8)">59.2</div>
<div class="t " style="left:338.0px;top:475.6px;font-size:12.5px;transform:scaleX(0.8)">16.3</div>
<div class="t " style="left:391.8px;top:443.7px;font-size:12.5px;transform:scaleX(0.8)">FMSI:</div>
<div class="t " style="left:496.4px;top:443.7px;font-size:12.5px;transform:scaleX(0.8)">FMSI:</div>
<div class="t " style="left:391.8px;top:459.5px;font-size:12.5px;transform:scaleX(0.8)">FMSI:</div>
<div class="t " style="left:496.4px;top:459.5px;font-size:12.5px;transform:scaleX(0.8)">FMSI:</div>
<div class="t " style="left:391.8px;top:475.3px;font-size:12.5px;transform:scaleX(0.8)">FMSI:</div>
<div class="t " style="left:496.4px;top:475.3px;font-size:12.5px;transform:scaleX(0.8)">FMSI:</div>
<div class="t " style="left:391.8px;top:491.1px;font-size:12.5px;transform:scaleX(0.8)">FMSI:</div>
<div class="t " style="left:496.4px;top:491.1px;font-size:12.5px;transform:scaleX(0.8)">FMSI:</div>
<div class="t " style="left:391.8px;top:506.9px;font-size:12.5px;transform:scaleX(0.8)">FMSI:</div>
<div class="t " style="left:496.4px;top:506.9px;font-size:12.5px;transform:scaleX(0.8)">FMSI:</div>
<div class="t " style="left:391.8px;top:522.7px;font-size:12.5px;transform:scaleX(0.8)">FMSI:</div>
<div class="t " style="left:496.4px;top:522.7px;font-size:12.5px;transform:scaleX(0.8)">FMSI:</div>
<div class="t " style="left:391.8px;top:538.5px;font-size:12.5px;transform:scaleX(0.8)">FMSI:</div>
<div class="t " style="left:496.4px;top:538.5px;font-size:12.5px;transform:scaleX(0.8)">FMSI:</div>
<div class="t " style="left:423.0px;top:443.6px;font-size:12.5px;transform:scaleX(0.8)">D1170</div>
<div class="t " style="left:603.0px;top:443.6px;font-size:12.5px;transform:scaleX(0.8)">Hardware Kit #:</div>
<div class="t " style="left:95.9px;top:554.9px;font-size:14.5px;transform:scaleX(0.858)">Note 1:</div>
<div class="t " style="left:95.9px;top:573.5px;font-size:14.5px;transform:scaleX(0.858)">Note 2:</div>
<!--/TEXT-->
</body></html>
